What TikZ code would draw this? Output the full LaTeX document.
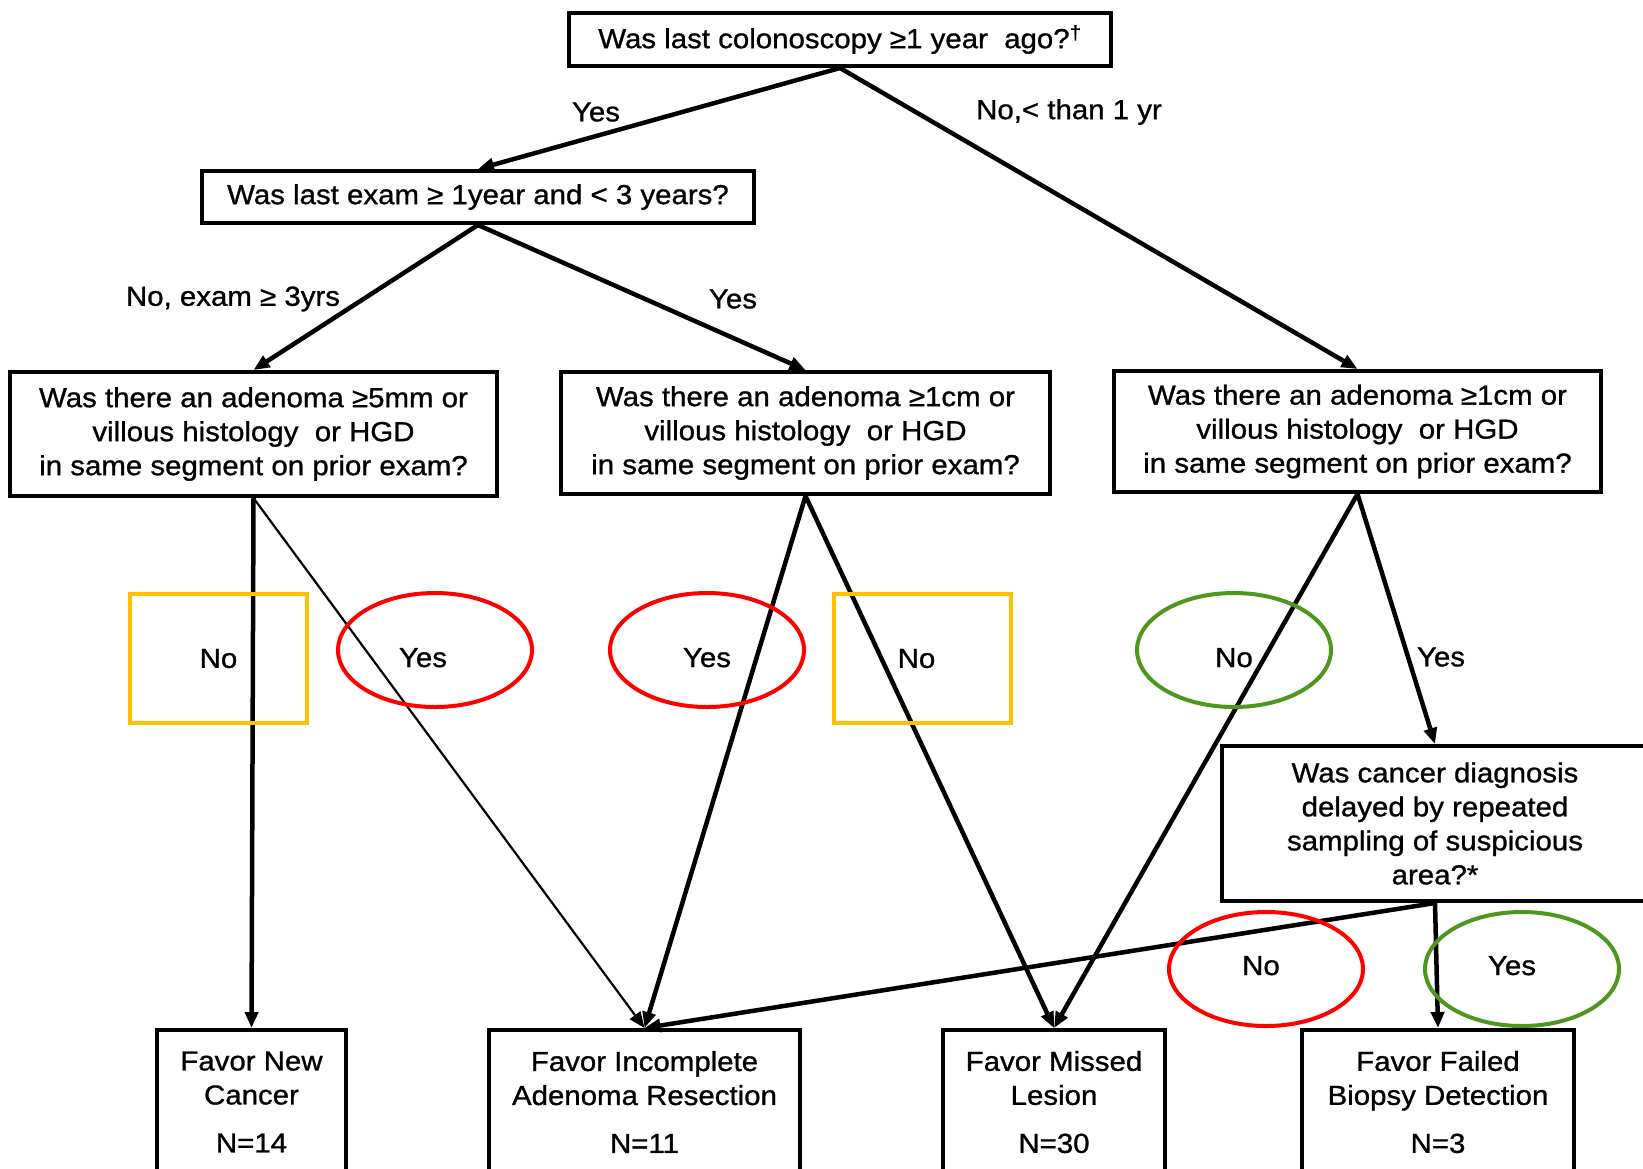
\documentclass[tikz,border=0pt]{standalone}
\usepackage{fontspec}
\setmainfont{Liberation Sans}[FakeStretch=1.07,FakeBold=1]
\usetikzlibrary{shapes.geometric,arrows.meta}
\definecolor{markgold}{RGB}{255,192,0}
\definecolor{markred}{RGB}{255,0,0}
\definecolor{markgreen}{RGB}{78,150,30}
\tikzset{
	qbox/.style={draw,line width=4pt,align=center,inner sep=0pt,font=\fontsize{27.5}{34}\selectfont},
	flow/.style={line width=4.5pt,-{Triangle[length=16pt,width=13pt]}},
	thinflow/.style={line width=2.2pt,-{Triangle[length=16pt,width=13pt]}},
	tag/.style={inner sep=0pt,font=\fontsize{27.5}{34}\selectfont},
	ring/.style={ellipse,draw,line width=4pt,minimum width=194pt,minimum height=114pt,inner sep=0pt,text height=20pt,text depth=0pt,font=\fontsize{27.5}{34}\selectfont},
	frame/.style={rectangle,draw=markgold,line width=4pt,minimum width=177pt,minimum height=129pt,inner sep=0pt,font=\fontsize{27.5}{34}\selectfont}
}
\begin{document}
\begin{tikzpicture}[x=1pt,y=-1pt]
	\useasboundingbox (0,0) rectangle (1643,1168);
	\node[qbox,minimum width=542pt,minimum height=53pt] (last) at (840,39.5) {Was last colonoscopy ≥1 year \ ago?\textsuperscript{†}};
	\node[qbox,minimum width=552pt,minimum height=52pt] (exam) at (478,197) {Was last exam ≥ 1year and < 3 years?};
	\node[qbox,minimum width=487pt,minimum height=124pt] (adenL) at (253.5,434) {Was there an adenoma ≥5mm or\\villous histology \ or HGD\\in same segment on prior exam?};
	\node[qbox,minimum width=489pt,minimum height=122pt] (adenM) at (805.5,433) {Was there an adenoma ≥1cm or\\villous histology \ or HGD\\in same segment on prior exam?};
	\node[qbox,minimum width=487pt,minimum height=121pt] (adenR) at (1357.5,431.5) {Was there an adenoma ≥1cm or\\villous histology \ or HGD\\in same segment on prior exam?};
	\node[qbox,minimum width=426pt,minimum height=155pt] (delay) at (1435,823.5) {Was cancer diagnosis\\delayed by repeated\\sampling of suspicious\\area?*};
	\node[qbox,minimum width=189pt,minimum height=144pt] (newca) at (251.5,1102) {Favor New\\Cancer\\[14pt]N=14};
	\node[qbox,minimum width=311pt,minimum height=144pt] (incomp) at (644.5,1102) {Favor Incomplete\\Adenoma Resection\\[14pt]N=11};
	\node[qbox,minimum width=222pt,minimum height=144pt] (missed) at (1054,1102) {Favor Missed\\Lesion\\[14pt]N=30};
	\node[qbox,minimum width=272pt,minimum height=144pt] (biopsy) at (1438,1102) {Favor Failed\\Biopsy Detection\\[14pt]N=3};
	\node[tag] (yes1) at (596,112) {Yes};
	\node[tag] (no1) at (1069,112) {No,< than 1 yr};
	\node[tag] (no2) at (233,299) {No, exam ≥ 3yrs};
	\node[tag] (yes2) at (733,299) {Yes};
	\node[tag] (yes6) at (1441,657) {Yes};
	\draw[flow] (last.south) -- (exam.north);
	\draw[flow] (last.south) -- (adenR.north);
	\draw[flow] (exam.south) -- (adenL.north);
	\draw[flow] (exam.south) -- (adenM.north);
	\draw[flow] (adenL.south) -- (newca.north);
	\draw[thinflow] (adenL.south) -- (incomp.north);
	\draw[flow] (adenM.south) -- (incomp.north);
	\draw[flow] (adenM.south) -- (missed.north);
	\draw[flow] (adenR.south) -- (missed.north);
	\draw[flow] (adenR.south) -- (delay.north);
	\draw[flow] (delay.south) -- (incomp.north);
	\draw[flow] (delay.south) -- (biopsy.north);
	\node[frame] (no3) at (218.5,658.5) {No};
	\node[ring,draw=markred] (yes3) at (435,650) {\hspace*{-24pt}\raisebox{-7pt}{Yes}};
	\node[ring,draw=markred] (yes4) at (707,650) {\raisebox{-7pt}{Yes}};
	\node[frame] (no4) at (922.5,658.5) {\hspace*{-12pt}No};
	\node[ring,draw=markgreen] (no5) at (1234,650) {\raisebox{-7pt}{No}};
	\node[ring,draw=markred] (no6) at (1266,969) {\hspace*{-10pt}\raisebox{4pt}{No}};
	\node[ring,draw=markgreen] (yes7) at (1522,969) {\hspace*{-20pt}\raisebox{4pt}{Yes}};
\end{tikzpicture}
\end{document}
